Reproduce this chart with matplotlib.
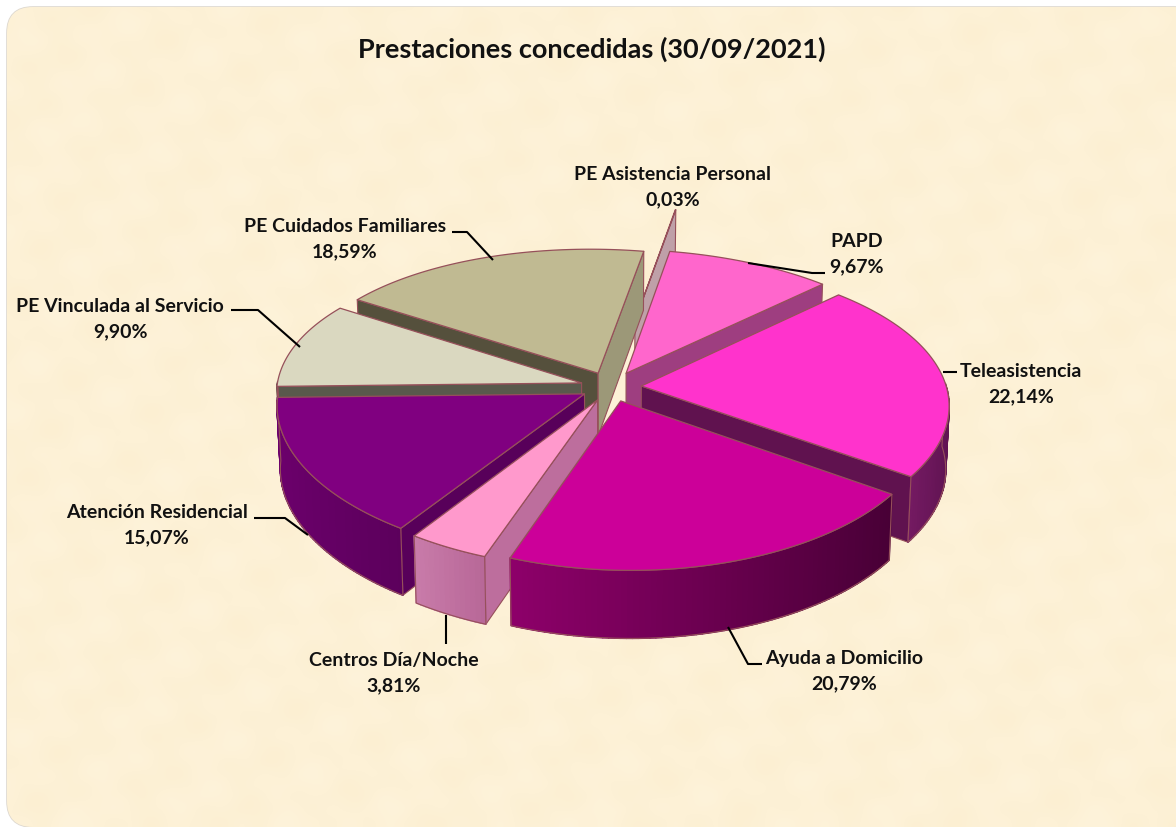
import numpy as np
import matplotlib
matplotlib.use("Agg")
import matplotlib.pyplot as plt
from matplotlib.patches import FancyBboxPatch, Polygon
from matplotlib.colors import to_rgb

# --- data -------------------------------------------------------------
categories = ["PAPD", "Teleasistencia", "Ayuda a Domicilio", "Centros Día/Noche",
              "Atención Residencial", "PE Vinculada al Servicio",
              "PE Cuidados Familiares", "PE Asistencia Personal"]
values = [9.67, 22.14, 20.79, 3.81, 15.07, 9.90, 18.59, 0.03]
title = "Prestaciones concedidas (30/09/2021)"

# --- style ------------------------------------------------------------
top_colors = ["#FF66CC", "#FF33CC", "#CC0099", "#FF99CC", "#800080", "#DAD8C0", "#C0BA92", "#C9A8B0"]
start_colors = ["#9E3E80", "#60124F", "#60004A", "#BD6E9D", "#58005A", "#59594C", "#55503C", "#BFA0A8"]
end_colors = ["#9E3E80", "#60124F", "#60004A", "#BD6E9D", "#58005A", "#59594C", "#9C9878", "#BFA0A8"]
wall_right = ["#9E3E80", "#5E1250", "#480036", "#B86898", "#5C005C", "#59594C", "#55503C", "#BFA0A8"]
wall_left = ["#9E3E80", "#741A62", "#8E006A", "#C97CAA", "#6C006C", "#59594C", "#55503C", "#BFA0A8"]
explode = [0.11, 0.10, 0.10, 0.10, 0.10, 0.10, 0.105, 0.50]
edge = "#96505A"
start_angle = 11.3

label_xy = [(857, 254), (1021, 384), (844, 671), (394, 673), (157, 525), (120, 319), (345, 239), (673, 187)]
leaders = [[(748, 263), (812, 273), (825, 273)],
           [(943, 372), (957, 372)],
           [(728, 627), (748, 664), (762, 664)],
           [(446, 615), (446, 644)],
           [(308, 535), (285, 518), (254, 518)],
           [(300, 347), (258, 310), (231, 310)],
           [(493, 260), (467, 232), (452, 232)],
           None]

W, H = 1176, 827
cx, cy, rx, ry, ky, kx, shear, depth = 611.0, 387.0, 305.0, 143.5, 0.13, 0.10, 9.0, 63.0

fig = plt.figure(figsize=(W / 100, H / 100), dpi=100, facecolor="white")
ax = fig.add_axes([0, 0, 1, 1])
ax.set_xlim(0, W)
ax.set_ylim(H, 0)
ax.axis("off")

# --- card with parchment mottling --------------------------------------
card = FancyBboxPatch((31, 31), W - 31, H - 55,
                      boxstyle="round,pad=24,rounding_size=26",
                      fc="#FDF0D4", ec="#DDD8D0", lw=1.2, zorder=1)
ax.add_patch(card)
gy, gx = np.mgrid[0:70, 0:100]
tex = (np.sin(gx * 0.73 + gy * 0.41) + np.sin(gx * 1.37 - gy * 0.93 + 1.1)
       + np.sin(gx * 0.29 + gy * 1.61 + 2.3) + np.sin(gx * 2.03 + gy * 2.71)) / 4
base = np.array(to_rgb("#FDF1D6"))
img = np.clip(base[None, None, :] + tex[:, :, None] * np.array([0.006, 0.012, 0.026]), 0, 1)
im = ax.imshow(img, extent=(0, W, H, 0), aspect="auto", interpolation="bicubic", zorder=1.1)
im.set_clip_path(card)
ax.set_xlim(0, W)
ax.set_ylim(H, 0)


def project(X, Y, lower=False):
    sy = 1.0 / (1.0 + ky * Y)
    sx = 1.0 / (1.0 + kx * Y)
    px = cx + rx * X * sx - shear * Y
    py = cy - ry * Y * sy
    if lower:
        d = depth * np.sqrt(sy)
        px = cx + (px - cx) * 0.99
        py = py + d
    return px, py


def mix(c1, c2, t):
    a, b = np.array(to_rgb(c1)), np.array(to_rgb(c2))
    return tuple(a + (b - a) * t)


def quad(x0, y0, x1, y1, color, z, outline=True):
    a, b = project(x0, y0), project(x1, y1)
    c, d = project(x1, y1, True), project(x0, y0, True)
    ax.add_patch(Polygon([a, b, c, d], closed=True, fc=color,
                         ec=edge if outline else color,
                         lw=0.8 if outline else 1.1, zorder=z, joinstyle="round"))


total = sum(values)
bounds = start_angle + np.concatenate([[0], np.cumsum(values)]) * 360.0 / total
mids = np.radians((bounds[:-1] + bounds[1:]) / 2)
order = np.argsort(-(np.cos(mids) * (1 + np.array(explode))))

for rank, i in enumerate(order):
    z = 2 + rank
    a0, a1 = np.radians(bounds[i]), np.radians(bounds[i + 1])
    ox, oy = explode[i] * np.sin(mids[i]), explode[i] * np.cos(mids[i])
    th = np.linspace(a0, a1, max(3, int(np.degrees(a1 - a0)) + 2))
    X, Y = ox + np.sin(th), oy + np.cos(th)

    # side cuts that face the viewer
    if np.sin(a0) < 0:
        quad(ox, oy, X[0], Y[0], start_colors[i], z)
    if np.sin(a1) > 0:
        quad(ox, oy, X[-1], Y[-1], end_colors[i], z)

    # outer wall, shaded along the arc
    vis = np.where(np.cos(th) < 0.02)[0]
    if len(vis) > 1:
        xmin, xmax = np.sin(th[vis]).min(), np.sin(th[vis]).max()
        span = max(xmax - xmin, 1e-6)
        for j in vis[:-1]:
            t = (np.sin(th[j]) - xmin) / span
            quad(X[j], Y[j], X[j + 1], Y[j + 1], mix(wall_left[i], wall_right[i], t), z, False)
        up = [project(X[j], Y[j]) for j in vis]
        lo = [project(X[j], Y[j], True) for j in vis]
        ax.add_patch(Polygon(up + lo[::-1], closed=True, fc="none", ec=edge, lw=0.8, zorder=z))

    # top face
    pts = [project(ox, oy)] + [project(a, b) for a, b in zip(X, Y)]
    ax.add_patch(Polygon(pts, closed=True, fc=top_colors[i], ec=edge, lw=0.9,
                         zorder=z, joinstyle="round"))

# --- labels -----------------------------------------------------------
font = "Lato"
for name, val, (lx, ly), lead in zip(categories, values, label_xy, leaders):
    txt = f"{name}\n{val:.2f}%".replace(".", ",")
    ax.text(lx, ly, txt, ha="center", va="center", fontsize=14.0, fontweight="bold",
            family=font, color="#111111", linespacing=1.62, zorder=30)
    if lead:
        xs, ys = zip(*lead)
        ax.plot(xs, ys, color="black", lw=1.5, zorder=29, solid_capstyle="butt")

ax.text(592, 49, title, ha="center", va="center", fontsize=19.5, fontweight="bold",
        family=font, color="#111111", zorder=30)

fig.savefig("out.png", dpi=100, facecolor="white")
